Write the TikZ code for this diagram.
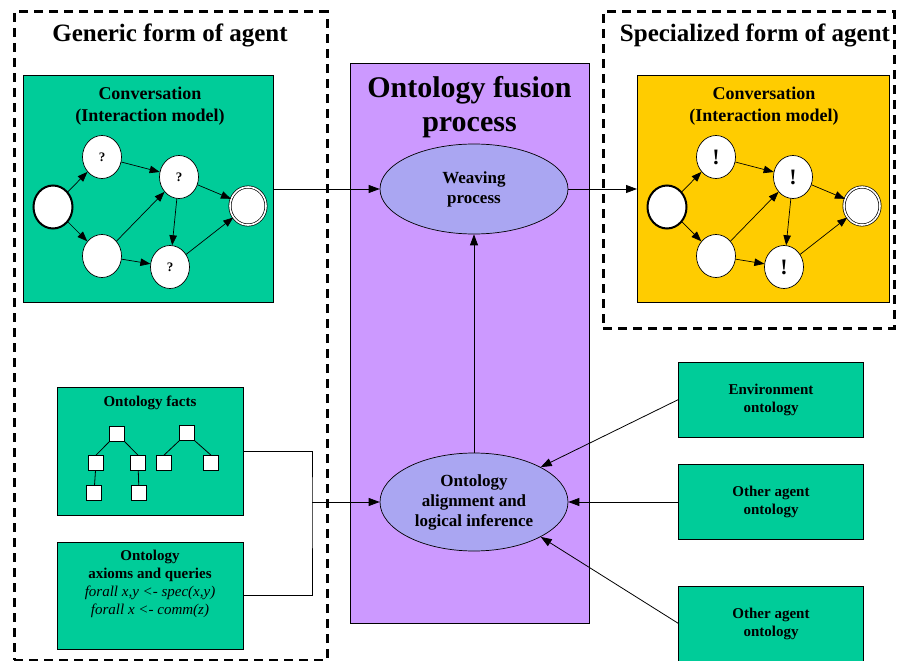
\documentclass[tikz,border=0pt]{standalone}
\usepackage{fontspec}
\setmainfont{Liberation Serif}
\usetikzlibrary{arrows.meta,shapes.geometric}
\definecolor{grn}{RGB}{0,204,153}
\definecolor{yel}{RGB}{255,204,0}
\definecolor{pur}{RGB}{204,153,255}
\definecolor{lav}{RGB}{170,166,242}
\newcommand\convgraph[4]{%
  \node[st, line width=2pt] (#1s) at (53+#2,207) {};
  \node[st] (#1a) at (102+#2,157) {\fontsize{#4}{#4}\selectfont\bfseries #3};
  \node[st] (#1b) at (179+#2,177) {\fontsize{#4}{#4}\selectfont\bfseries #3};
  \node[st] (#1c) at (102+#2,256) {};
  \node[st] (#1d) at (170+#2,267) {\fontsize{#4}{#4}\selectfont\bfseries #3};
  \node[st, double=white, double distance=1.6pt, minimum width=36pt, minimum height=38pt] (#1e) at (248+#2,206) {};
  \draw[sarr] (#1s) -- (#1a);
  \draw[sarr] (#1s) -- (#1c);
  \draw[sarr] (#1a) -- (#1b);
  \draw[sarr] (#1c) -- (#1b);
  \draw[sarr] (#1b) -- (#1d);
  \draw[sarr] (#1c) -- (#1d);
  \draw[sarr] (#1b) -- (#1e);
  \draw[sarr] (#1d) -- (#1e);
}
\begin{document}
\begin{tikzpicture}[x=1pt,y=-1pt,
  dbox/.style={draw, line width=3pt, dash pattern=on 9pt off 6pt, inner sep=0pt, outer sep=0pt},
  gbox/.style={draw, fill=grn, line width=0.7pt, inner sep=0pt, outer sep=0pt},
  ybox/.style={draw, fill=yel, line width=0.7pt, inner sep=0pt, outer sep=0pt},
  pbox/.style={draw, fill=pur, line width=0.7pt, inner sep=0pt, outer sep=0pt},
  ell/.style={ellipse, draw, fill=lav, line width=0.7pt, inner sep=0pt, align=center,
              font=\fontsize{17}{20}\selectfont\bfseries},
  st/.style={ellipse, draw, fill=white, line width=0.7pt, inner sep=0pt,
             minimum width=39pt, minimum height=43pt},
  tsq/.style={draw, fill=white, line width=0.7pt, inner sep=0pt, minimum size=15pt},
  sarr/.style={-{Triangle[length=10pt,width=7.5pt]}, line width=0.7pt},
  arr/.style={-{Triangle[length=11pt,width=8pt]}, line width=0.8pt},
  ln/.style={line width=0.8pt},
  btxt/.style={align=center, font=\fontsize{15}{18}\selectfont\bfseries, inner sep=0pt},
]
\useasboundingbox (0,0) rectangle (897,661);
\fill[white] (0,0) rectangle (897,661);

% dashed agent frames
\node[dbox, minimum width=313pt, minimum height=648pt] (gen) at (170.5,336) {};
\node[dbox, minimum width=291pt, minimum height=316pt] (spec) at (748.5,170) {};
\node[font=\fontsize{25}{28}\selectfont\bfseries] (gtitle) at (170,35) {Generic form of agent};
\node[font=\fontsize{25}{28}\selectfont\bfseries] (stitle) at (755,35) {Specialized form of agent};

% fusion process
\node[pbox, minimum width=239pt, minimum height=560pt] (fusion) at (469.5,343) {};
\node[align=center, font=\fontsize{30}{34}\selectfont\bfseries] (ftitle) at (469.5,107) {Ontology fusion\\process};
\node[ell, minimum width=188pt, minimum height=90pt] (weave) at (474,189) {Weaving\\process};
\node[ell, minimum width=188pt, minimum height=98pt] (align) at (474,502) {Ontology\\alignment and\\logical inference};

% conversation boxes
\node[gbox, minimum width=250pt, minimum height=227pt] (conv1) at (148.5,188.5) {};
\node[align=center, font=\fontsize{18}{22}\selectfont\bfseries] (conv1t) at (150,106) {Conversation\\(Interaction model)};
\node[ybox, minimum width=252pt, minimum height=227pt] (conv2) at (763,188.5) {};
\node[align=center, font=\fontsize{18}{22}\selectfont\bfseries] (conv2t) at (764,106) {Conversation\\(Interaction model)};
\convgraph{l}{0}{?}{13}
\convgraph{r}{614}{!}{22}

% ontology facts
\node[gbox, minimum width=186pt, minimum height=128pt] (facts) at (150,451) {};
\node[btxt] (factst) at (150,403) {Ontology facts};
\node[tsq] (t1) at (117,434) {};
\node[tsq] (t2) at (96,463) {};
\node[tsq] (t3) at (138,463) {};
\node[tsq] (t4) at (94,493) {};
\node[tsq] (t5) at (139,493) {};
\node[tsq] (t6) at (187,433) {};
\node[tsq] (t7) at (164,463) {};
\node[tsq] (t8) at (211,463) {};
\draw[ln] (t1.south west) -- (t2.north);
\draw[ln] (t1.south east) -- (t3.north);
\draw[ln] (t2) -- (t4);
\draw[ln] (t3) -- (t5);
\draw[ln] (t6.south west) -- (t7.north);
\draw[ln] (t6.south east) -- (t8.north);

% ontology axioms
\node[gbox, minimum width=186pt, minimum height=107pt] (axioms) at (150,595.5) {};
\node[align=center, inner sep=0pt, font=\fontsize{15}{18}\selectfont] (axiomst) at (150,584)
  {\textbf{Ontology}\\\textbf{axioms and queries}\\\textit{forall x,y <- spec(x,y)}\\\textit{forall x <- comm(z)}};

% right ontologies
\node[gbox, minimum width=185pt, minimum height=75pt, btxt] (env) at (771,399.5) {Environment\\ontology};
\node[gbox, minimum width=185pt, minimum height=75pt, btxt] (oth1) at (771,502) {Other agent\\ontology};
\node[gbox, minimum width=185pt, minimum height=75pt, btxt] (oth2) at (771,623.5) {Other agent\\ontology};

% connectors
\coordinate (jn) at (312,502);
\draw[ln] (facts.east) -| (jn) |- (axioms.east);
\draw[arr] (jn) -- (align.west);
\draw[arr] (conv1.east |- weave.west) -- (weave.west);
\draw[arr] (weave.east) -- (conv2.west |- weave.east);
\draw[arr] (align.north) -- (weave.south);
\draw[arr] (env.west) -- (align.north east);
\draw[arr] (oth1.west) -- (align.east);
\draw[arr] (oth2.west) -- (align.south east);
\end{tikzpicture}
\end{document}
